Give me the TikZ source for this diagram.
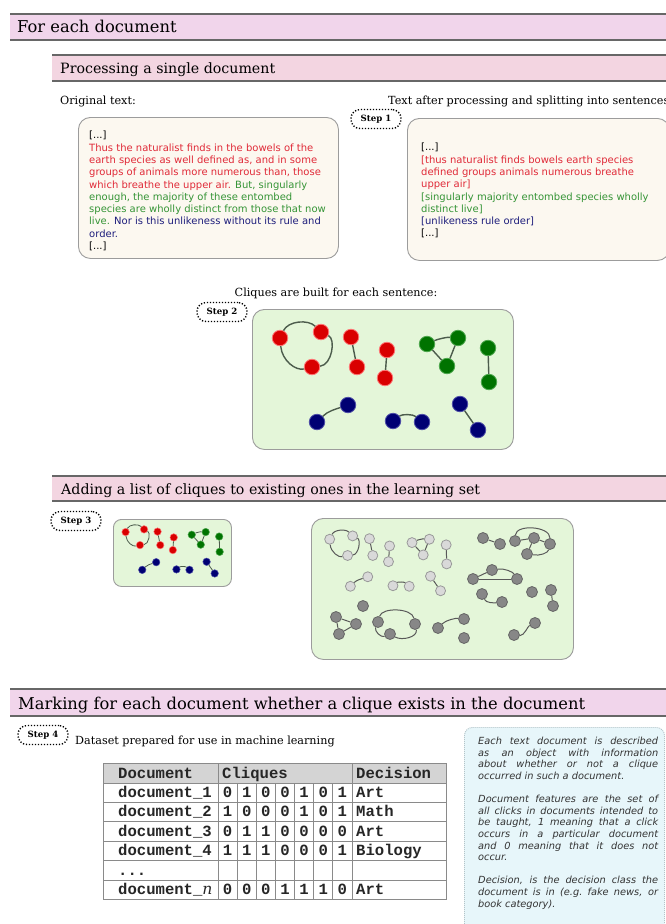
\documentclass[tikz,border=0pt]{standalone}
\usepackage{fontspec}
\setmainfont{DejaVu Serif}
\setsansfont{DejaVu Sans}
\setmonofont{Liberation Mono}
\newfontfamily\boxfont{DejaVu Sans}
\definecolor{bandA}{HTML}{F1D5EB}
\definecolor{bandB}{HTML}{F3D5E1}
\definecolor{bandline}{HTML}{676767}
\definecolor{txtred}{HTML}{E02A38}
\definecolor{txtgreen}{HTML}{359436}
\definecolor{txtblue}{HTML}{1E1E7C}
\definecolor{creambox}{HTML}{FCF8F0}
\definecolor{greenbox}{HTML}{E4F6D9}
\definecolor{boxline}{HTML}{9C9C9C}
\definecolor{infofill}{HTML}{E7F6FA}
\definecolor{infoline}{HTML}{B3C4C9}
\definecolor{edgecol}{HTML}{4C5C4C}
\definecolor{tabhead}{HTML}{D4D4D4}
\definecolor{tabline}{HTML}{8A8A8A}

\newcommand\cliqueset[8]{%
\begin{scope}[shift={(#2,#3)},scale=#4]
\node[#5] (#1a) at (28,29) {};
\node[#5] (#1b) at (69,23) {};
\node[#5] (#1c) at (60,58) {};
\node[#5] (#1d) at (99,28) {};
\node[#5] (#1e) at (105,58) {};
\node[#5] (#1f) at (135,41) {};
\node[#5] (#1g) at (133,69) {};
\node[#6] (#1h) at (175,35) {};
\node[#6] (#1i) at (206,29) {};
\node[#6] (#1j) at (195,57) {};
\node[#6] (#1k) at (236,39) {};
\node[#6] (#1l) at (237,73) {};
\node[#7] (#1m) at (65,113) {};
\node[#7] (#1n) at (96,96) {};
\node[#7] (#1o) at (141,112) {};
\node[#7] (#1p) at (170,113) {};
\node[#7] (#1q) at (208,95) {};
\node[#7] (#1r) at (226,121) {};
\draw[#8] (#1a) .. controls (36,12) and (56,10) .. (#1b);
\draw[#8] (#1b) .. controls (84,30) and (80,56) .. (#1c);
\draw[#8] (#1c) .. controls (44,62) and (30,52) .. (#1a);
\draw[#8] (#1d) -- (#1e);
\draw[#8] (#1f) -- (#1g);
\draw[#8] (#1h) .. controls (186,30) and (195,28) .. (#1i);
\draw[#8] (#1i) -- (#1j) -- (#1h);
\draw[#8] (#1k) -- (#1l);
\draw[#8] (#1m) .. controls (76,102) and (84,100) .. (#1n);
\draw[#8] (#1o) .. controls (150,105) and (161,105) .. (#1p);
\draw[#8] (#1q) -- (#1r);
\end{scope}}

\begin{document}
\begin{tikzpicture}[x=1pt,y=-1pt,
  bandtop/.style={draw=bandline,line width=1.5pt},
  bandbot/.style={draw=bandline,line width=2.5pt},
  hone/.style={font=\fontsize{16.3}{19}\selectfont,inner sep=0pt},
  htwo/.style={font=\fontsize{14.2}{17}\selectfont,inner sep=0pt},
  lbl/.style={font=\fontsize{11.2}{13}\selectfont,inner sep=0pt},
  stepbox/.style={draw,dash pattern=on 1.2pt off 1.8pt,line width=1.4pt,rounded corners=9pt,
     minimum width=50pt,minimum height=19pt,inner sep=1pt,fill=white,
     font=\bfseries\fontsize{8.6}{10}\selectfont},
  textbox/.style={draw=boxline,fill=creambox,line width=0.9pt,rounded corners=12pt,inner sep=0pt},
  gbox/.style={draw=boxline,fill=greenbox,line width=0.9pt,rounded corners=12pt,inner sep=0pt},
  btext/.style={font=\boxfont\fontsize{10}{12.3}\selectfont,align=left,inner sep=0pt},
  vtx/.style={circle,inner sep=0pt,line width=0.8pt},
  big/.style={minimum size=15.5pt},
  small/.style={minimum size=7.5pt,line width=0.5pt},
  mid/.style={minimum size=10pt},
  rn/.style={vtx,big,fill=red!85!black,draw=red!55!white},
  gn/.style={vtx,big,fill=green!45!black,draw=green!50!black!70!white},
  bn/.style={vtx,big,fill=blue!45!black,draw=blue!50!black!70!white},
  ln/.style={vtx,mid,fill=black!15,draw=black!40},
  dn/.style={vtx,mid,minimum size=11pt,fill=black!47,draw=black!60},
  edge/.style={draw=edgecol,line width=1.4pt},
  thinedge/.style={draw=edgecol,line width=0.8pt},
  gedge/.style={draw=black!65,line width=1pt},
  tline/.style={draw=tabline,line width=0.8pt},
  mono/.style={font=\ttfamily\bfseries\fontsize{15.6}{16}\selectfont,inner sep=0pt,text=black!85},
  infotext/.style={font=\boxfont\itshape\fontsize{9.8}{11.6}\selectfont,text width=180pt,align=justify,inner sep=0pt,text=black!80}
]
\useasboundingbox (0,0) rectangle (666,924);
\clip (0,0) rectangle (666,924);
\fill[white] (0,0) rectangle (666,924);

% ---- band 1
\fill[bandA] (10,14) rectangle (670,40);
\draw[bandtop] (10,14) -- (670,14);
\draw[bandbot] (10,40) -- (670,40);
\node[hone,anchor=base west] (h1) at (17,32) {For each document};

% ---- band 2
\fill[bandB] (52,55) rectangle (670,81);
\draw[bandtop] (52,55) -- (670,55);
\draw[bandbot] (52,81) -- (670,81);
\node[htwo,anchor=base west] (h2) at (60,73.5) {Processing a single document};

\node[lbl,anchor=base west] (orig) at (60,104) {Original text:};
\node[lbl,anchor=base west] (after) at (388,104) {Text after processing and splitting into sentences};

\node[textbox,anchor=north west,minimum width=260pt,minimum height=141pt] (box1) at (78,117) {};
\node[textbox,anchor=north west,minimum width=262pt,minimum height=142pt] (box2) at (407,118) {};
\node[stepbox] (step1) at (376,119) {Step 1};

\node[btext,anchor=north west] (t1) at (89,131) {{[...]}\\
\textcolor{txtred}{Thus the naturalist finds in the bowels of the}\\
\textcolor{txtred}{earth species as well defined as, and in some}\\
\textcolor{txtred}{groups of animals more numerous than, those}\\
\textcolor{txtred}{which breathe the upper air.} \textcolor{txtgreen}{But, singularly}\\
\textcolor{txtgreen}{enough, the majority of these entombed}\\
\textcolor{txtgreen}{species are wholly distinct from those that now}\\
\textcolor{txtgreen}{live.} \textcolor{txtblue}{Nor is this unlikeness without its rule and}\\
\textcolor{txtblue}{order.}\\
{[...]}};

\node[btext,anchor=north west] (t2) at (421,143) {{[...]}\\
\textcolor{txtred}{[thus naturalist finds bowels earth species}\\
\textcolor{txtred}{defined groups animals numerous breathe}\\
\textcolor{txtred}{upper air]}\\
\textcolor{txtgreen}{[singularly majority entombed species wholly}\\
\textcolor{txtgreen}{distinct live]}\\
\textcolor{txtblue}{[unlikeness rule order]}\\
{[...]}};

% ---- step 2
\node[lbl,anchor=base] (cliq) at (336,296) {Cliques are built for each sentence:};
\node[gbox,anchor=north west,minimum width=261pt,minimum height=140pt] (gb2) at (252,309) {};
\node[stepbox] (step2) at (222,312) {Step 2};
\cliqueset{s}{252}{309}{1}{rn}{gn}{bn}{edge}

% ---- band 3
\fill[bandB] (52,476) rectangle (670,501);
\draw[bandtop] (52,476) -- (670,476);
\draw[bandbot] (52,501) -- (670,501);
\node[htwo,anchor=base west] (h3) at (61,494.5) {Adding a list of cliques to existing ones in the learning set};

\node[stepbox] (step3) at (76,521) {Step 3};
\node[gbox,anchor=north west,minimum width=118pt,minimum height=67pt,rounded corners=8pt] (gb3) at (113,519) {};
\cliqueset{u}{113}{519}{0.45}{rn,small}{gn,small}{bn,small}{thinedge}
\node[gbox,anchor=north west,minimum width=262pt,minimum height=141pt] (gb4) at (311,518) {};
\cliqueset{w}{314}{523}{0.56}{ln}{ln}{ln}{gedge}

% dark cliques
\node[dn] (d1) at (483,538) {};
\node[dn] (d2) at (500,544) {};
\draw[gedge] (d1) -- (d2);
\node[dn] (e1) at (515,541) {};
\node[dn] (e2) at (534,538) {};
\node[dn] (e3) at (550,544) {};
\node[dn] (e4) at (527,554) {};
\draw[gedge] (e1) .. controls (516,524) and (550,526) .. (e3);
\draw[gedge] (e1) -- (e2) -- (e3);
\draw[gedge] (e2) -- (e4);
\draw[gedge] (e4) .. controls (540,556) and (548,553) .. (e3);
\node[dn] (f1) at (473,579) {};
\node[dn] (f2) at (492,570) {};
\node[dn] (f3) at (517,579) {};
\draw[gedge] (f1) -- (f2);
\draw[gedge] (f2) .. controls (504,568) and (513,572) .. (f3);
\draw[gedge] (f3) -- (f1);
\node[dn] (g1) at (482,594) {};
\node[dn] (g2) at (502,602) {};
\draw[gedge] (g1) .. controls (486,603) and (494,603) .. (g2);
\node[dn] (hh) at (532,592) {};
\node[dn] (i1) at (551,590) {};
\node[dn] (i2) at (553,606) {};
\draw[gedge] (i1) -- (i2);
\node[dn] (jj) at (363,606) {};
\node[dn] (k1) at (336,617) {};
\node[dn] (k2) at (356,624) {};
\node[dn] (k3) at (339,634) {};
\draw[gedge] (k1) -- (k2) -- (k3) -- (k1);
\node[dn] (l1) at (378,622) {};
\node[dn] (l2) at (415,624) {};
\node[dn] (l3) at (390,634) {};
\draw[gedge] (l1) .. controls (382,607) and (412,608) .. (l2);
\draw[gedge] (l2) .. controls (418,637) and (402,641) .. (l3);
\draw[gedge] (l3) .. controls (381,638) and (374,631) .. (l1);
\node[dn] (m1) at (438,628) {};
\node[dn] (m2) at (464,619) {};
\draw[gedge] (m1) .. controls (446,620) and (456,618) .. (m2);
\node[dn] (nn) at (464,638) {};
\node[dn] (o1) at (514,635) {};
\node[dn] (o2) at (535,623) {};
\draw[gedge] (o1) .. controls (524,636) and (528,626) .. (o2);

% ---- band 4
\fill[bandA] (10,689) rectangle (670,716);
\draw[bandtop] (10,689) -- (670,689);
\draw[bandbot] (10,716) -- (670,716);
\node[hone,anchor=base west] (h4) at (18,709) {Marking for each document whether a clique exists in the document};

\node[stepbox] (step4) at (43,735) {Step 4};
\node[lbl,anchor=base west] (ds) at (75,744) {Dataset prepared for use in machine learning};

% ---- table
\fill[tabhead] (103,763) rectangle (446,783);
\foreach \yy in {783,802.4,821.8,841.2,860.6,880} \draw[tline] (103,\yy) -- (446,\yy);
\draw[tline] (218,763) -- (218,899.4);
\draw[tline] (352,763) -- (352,899.4);
\foreach \ii in {1,...,6} \draw[tline] ({218+\ii*19.14},783) -- ({218+\ii*19.14},899.4);
\draw[tline,line width=1pt] (103,763) rectangle (446,899.4);
\node[mono,anchor=base west] (hdoc) at (118,778) {Document};
\node[mono,anchor=base west] (hcl) at (222,778) {Cliques};
\node[mono,anchor=base west] (hdec) at (356,778) {Decision};
\foreach \rt/\dname/\bits/\dec [count=\k] in
  {783/{document\_1}/{0,1,0,0,1,0,1}/Art,
   802.4/{document\_2}/{1,0,0,0,1,0,1}/Math,
   821.8/{document\_3}/{0,1,1,0,0,0,0}/Art,
   841.2/{document\_4}/{1,1,1,0,0,0,1}/Biology}
{
  \node[mono,anchor=base west] (doc\k) at (118,\rt+14.5) {\dname};
  \foreach \bb [count=\jj] in \bits
    \node[mono,anchor=base] (c\k-\jj) at ({218+(\jj-0.5)*19.14},\rt+14.5) {\bb};
  \node[mono,anchor=base west] (dec\k) at (356,\rt+14.5) {\dec};
}
\node[mono,anchor=base west] (doc5) at (118,875) {...};
\node[mono,anchor=base west] (doc6) at (118,894.5) {document\_{\normalfont\itshape n}};
\foreach \bb [count=\jj] in {0,0,0,1,1,1,0}
  \node[mono,anchor=base] (c6-\jj) at ({218+(\jj-0.5)*19.14},894.5) {\bb};
\node[mono,anchor=base west] (dec6) at (356,894.5) {Art};

% ---- info box
\node[draw=infoline,fill=infofill,dash pattern=on 1pt off 1pt,line width=0.9pt,rounded corners=8pt,
  anchor=north west,minimum width=200pt,minimum height=210pt,inner sep=0pt] (info) at (464,727) {};
\node[infotext,anchor=north west] (infot) at (478,737) {\parindent=0pt
Each text document is described\linebreak as an object with information\linebreak about whether or not a clique\linebreak occurred in such a document.\par\vspace{11.6pt}
Document features are the set of\linebreak all clicks in documents intended to\linebreak be taught, 1 meaning that a click\linebreak occurs in a particular document\linebreak and 0 meaning that it does not\linebreak occur.\par\vspace{11.6pt}
Decision, is the decision class the\linebreak document is in (e.g.\ fake news, or\linebreak book category).};
\end{tikzpicture}
\end{document}
